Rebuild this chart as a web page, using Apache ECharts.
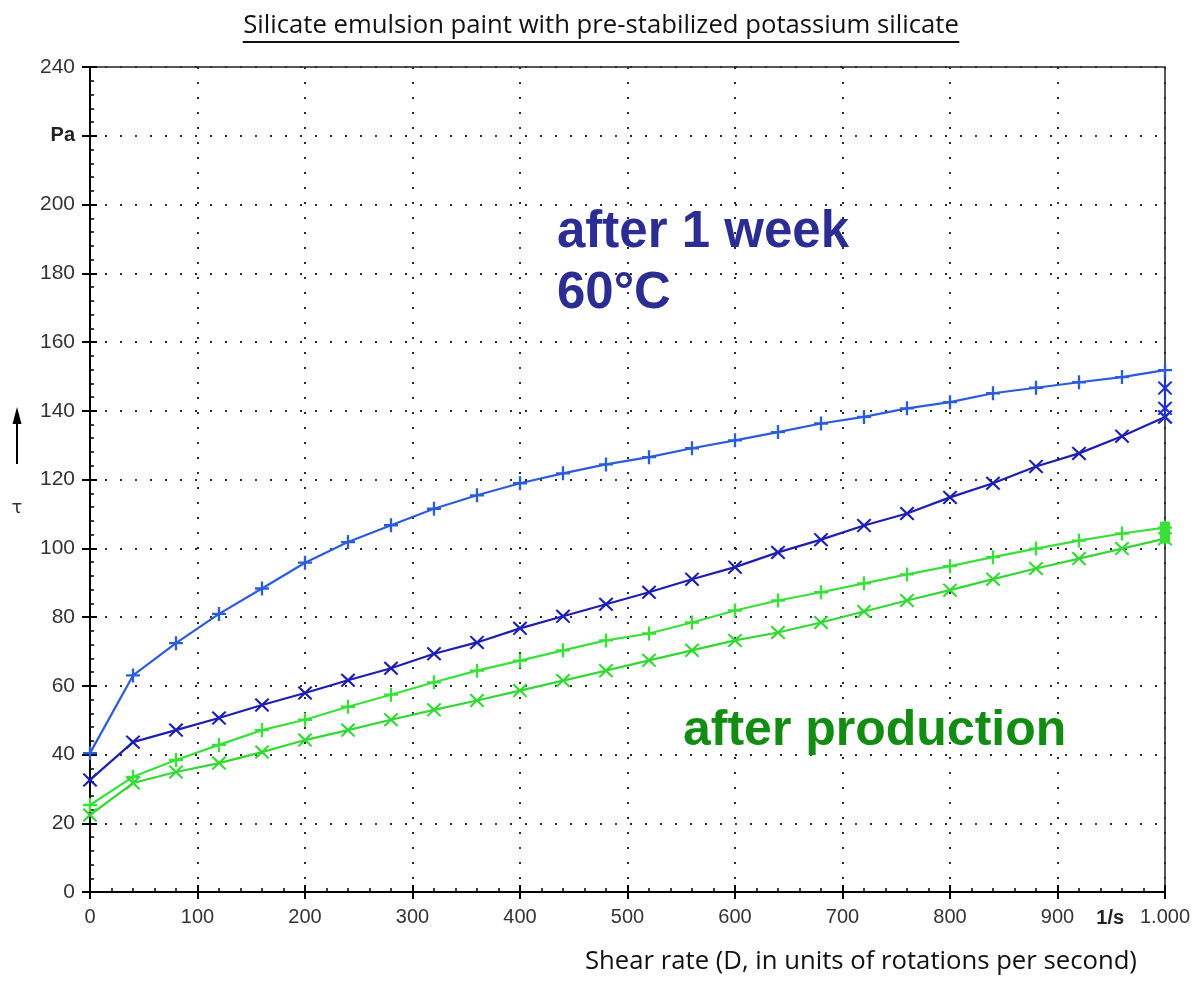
<!DOCTYPE html>
<html><head><meta charset="utf-8">
<script src="https://cdn.jsdelivr.net/npm/echarts@6/dist/echarts.min.js"></script>
<style>html,body{margin:0;padding:0;background:#fff}#c{width:1196px;height:1000px}</style>
</head><body><div id="c"></div>
<script>
// ---------- data ----------
const shearRate = [0,40,80,120,160,200,240,280,320,360,400,440,480,520,560,600,640,680,720,760,800,840,880,920,960,1000];
const week1Plus  = [40.4,63.0,72.4,80.9,88.3,95.8,101.8,106.7,111.5,115.4,118.9,121.8,124.4,126.5,129.1,131.4,133.8,136.3,138.2,140.7,142.5,145.1,146.7,148.3,149.8,151.8];
const week1Cross = [32.6,43.6,47.1,50.6,54.4,57.9,61.6,65.1,69.3,72.6,76.7,80.2,83.7,87.2,91.0,94.5,98.8,102.5,106.6,110.1,114.8,118.9,123.8,127.6,132.6,138.2];
const week1CrossEnd = [140.7,146.6];
const prodPlus   = [25.3,33.5,38.4,42.8,47.1,50.1,53.9,57.4,61.0,64.4,67.3,70.3,73.2,75.2,78.4,81.9,84.8,87.2,89.8,92.4,94.8,97.4,99.9,102.2,104.3,106.0];
const prodCross  = [22.4,31.7,34.9,37.5,40.7,44.2,47.1,50.1,53.0,55.7,58.6,61.5,64.4,67.4,70.3,73.2,75.5,78.4,81.6,84.8,87.8,91.0,94.1,97.0,99.9,102.8];
const prodEnd = [104.5,106.3];
const yTickMin = 0, yTickMax = 240, yTickStep = 20, yUnitAt = 220;
const xTickMin = 0, xTickMax = 1000, xTickStep = 100, xUnitAt = 949;
const titleText = 'Silicate emulsion paint with pre-stabilized potassium silicate';
const xTitleText = 'Shear rate (D, in units of rotations per second)';
const yUnit = 'Pa', xUnit = '1/s', yName = 'τ';
const note1a = 'after 1 week', note1b = '60°C', note2 = 'after production';

// ---------- helpers ----------
const pairs = (xs, ys) => ys.map((v, i) => [xs[i], v]);
const PLUS = 'path://M-1,-6 L1,-6 L1,-1 L6,-1 L6,1 L1,1 L1,6 L-1,6 L-1,1 L-6,1 L-6,-1 L-1,-1 Z';
const CROSS = 'path://M-6,-5 L-4.7,-6 L0,-1.3 L4.7,-6 L6,-5 L1.4,0 L6,5 L4.7,6 L0,1.3 L-4.7,6 L-6,5 L-1.4,0 Z';

const cLight = '#2d5cd8', cDark = '#1e1eb0', cGreen = '#3ae03a', cGreen2 = '#34d834';
const titleFont = '"Open Sans", sans-serif';
const cv = document.createElement('canvas').getContext('2d');
function fitSize(text, width){ cv.font = '20px "Open Sans"'; return 20 * width / cv.measureText(text).width; }
const titleSize = fitSize(titleText, 717);
const xTitleSize = fitSize(xTitleText, 553);
cv.font = titleSize + 'px "Open Sans"';
const titleW = cv.measureText(titleText).width;

function lineSeries(name, data, color, sym, size, z){
  return {name, type:'line', data, xAxisIndex:0, yAxisIndex:0, z,
    lineStyle:{color, width:2.2}, itemStyle:{color}, symbol:sym, symbolSize:size,
    showSymbol:true, showAllSymbol:true, silent:true};
}

const lastX = shearRate[shearRate.length-1];
const endColumn = [[lastX, week1Cross[week1Cross.length-1]]]
  .concat(week1CrossEnd.map(v => [lastX, v]))
  .concat([{value:[lastX, week1Plus[week1Plus.length-1]], symbol:'none'}]);
const prodColumn = [[lastX, prodCross[prodCross.length-1]]].concat(prodEnd.map(v => [lastX, v]));

const chart = echarts.init(document.getElementById('c'), null, {renderer:'canvas'});
const labelFont = '"Liberation Sans", Arial, sans-serif';
const dotted = {show:true, lineStyle:{type:[2,13], width:2, color:'#2a2a2a'}};
const option = {
  animation:false,
  backgroundColor:'#fff',
  grid:{left:90, right:31, top:67, bottom:108, show:true, borderColor:'#222', borderWidth:1.5},
  xAxis:[
    {type:'value', min:xTickMin, max:xTickMax, interval:xTickStep, position:'bottom',
     axisLine:{show:true, onZero:false, lineStyle:{color:'#000', width:2}},
     axisTick:{show:true, inside:false, length:7, lineStyle:{color:'#000', width:2}},
     axisLabel:{fontFamily:labelFont, fontSize:20, color:'#333', margin:15,
       formatter:v => v === xTickMax ? '1.000' : String(v)},
     splitLine:dotted},
    {type:'value', min:xTickMin, max:xTickMax, interval:xTickStep, position:'bottom',
     axisLine:{show:false}, axisLabel:{show:false}, splitLine:{show:false},
     axisTick:{show:true, inside:true, length:7, lineStyle:{color:'#000', width:2}},
     minorTick:{show:true, splitNumber:5, length:4, lineStyle:{color:'#000', width:1.5}}}
  ],
  yAxis:[
    {type:'value', min:yTickMin, max:yTickMax, interval:yTickStep, position:'left',
     axisLine:{show:true, onZero:false, lineStyle:{color:'#000', width:2}},
     axisTick:{show:true, inside:false, length:8, lineStyle:{color:'#000', width:2}},
     axisLabel:{fontFamily:labelFont, fontSize:21, color:'#333', margin:15,
       formatter:v => v === yUnitAt ? '{u|' + yUnit + '}' : String(v),
       rich:{u:{fontFamily:labelFont, fontSize:20, fontWeight:'bold', color:'#222'}}},
     splitLine:dotted},
    {type:'value', min:yTickMin, max:yTickMax, interval:yTickStep, position:'left',
     axisLine:{show:false}, axisLabel:{show:false}, splitLine:{show:false},
     axisTick:{show:true, inside:true, length:7, lineStyle:{color:'#000', width:2}},
     minorTick:{show:true, splitNumber:5, length:4, lineStyle:{color:'#000', width:1.5}}}
  ],
  series:[
    lineSeries('prodCross', pairs(shearRate, prodCross), cGreen2, CROSS, [15,14], 3),
    lineSeries('prodPlus', pairs(shearRate, prodPlus), cGreen, PLUS, 14, 3),
    lineSeries('prodEnd', prodColumn, cGreen, 'rect', 10, 3),
    lineSeries('week1Cross', pairs(shearRate, week1Cross), cDark, CROSS, [15,14], 4),
    lineSeries('week1CrossEnd', endColumn, '#2233cc', CROSS, [15,14], 4),
    lineSeries('week1Plus', pairs(shearRate, week1Plus), cLight, PLUS, 14, 5)
  ]
};
chart.setOption(option);

const sx = chart.convertToPixel({xAxisIndex:0}, xUnitAt);
chart.setOption({graphic:[
  {type:'text', x:601, y:26, style:{text:titleText, font:titleSize.toFixed(1)+'px '+titleFont, fill:'#111', align:'center', verticalAlign:'middle'}},
  {type:'line', shape:{x1:601-titleW/2, y1:42, x2:601+titleW/2, y2:42}, style:{stroke:'#111', lineWidth:2}},
  {type:'text', x:585, y:962, style:{text:xTitleText, font:xTitleSize.toFixed(1)+'px '+titleFont, fill:'#111', verticalAlign:'middle'}},
  {type:'text', x:sx, y:918, style:{text:xUnit, font:'bold 20px '+labelFont, fill:'#222', align:'center', verticalAlign:'middle'}},
  {type:'text', x:17, y:508, style:{text:yName, font:'18px "DejaVu Sans", sans-serif', fill:'#333', align:'center', verticalAlign:'middle'}},
  {type:'line', shape:{x1:17, y1:464, x2:17, y2:420}, style:{stroke:'#000', lineWidth:2}},
  {type:'polygon', shape:{points:[[17,407],[12.5,424],[21.5,424]]}, style:{fill:'#000'}},
  {type:'text', x:557, y:233, style:{text:note1a, font:'bold 51px '+labelFont, fill:'#2b2d92', verticalAlign:'middle'}},
  {type:'text', x:557, y:294, style:{text:note1b, font:'bold 51px '+labelFont, fill:'#2b2d92', verticalAlign:'middle'}},
  {type:'text', x:683, y:731, style:{text:note2, font:'bold 50px '+labelFont, fill:'#138c13', verticalAlign:'middle'}}
]});
</script>
</body></html>
